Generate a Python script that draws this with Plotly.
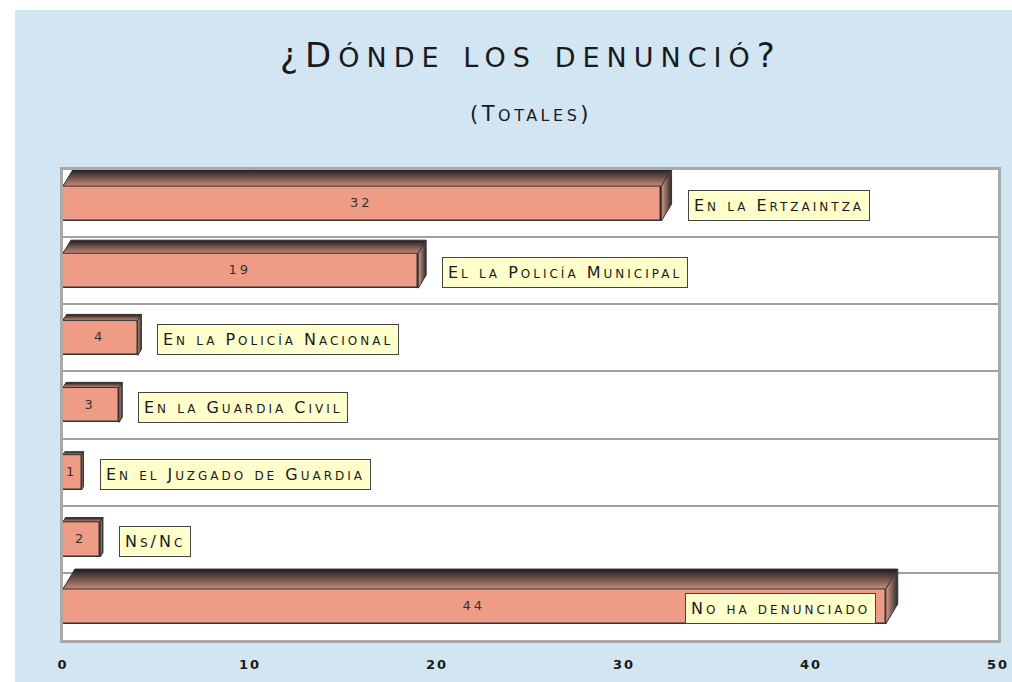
import math
import plotly.graph_objects as go

# ---------------- data ----------------
categories = ["En la Ertzaintza", "El la Policía Municipal", "En la Policía Nacional",
              "En la Guardia Civil", "En el Juzgado de Guardia", "Ns/Nc", "No ha denunciado"]
values = [32, 19, 4, 3, 1, 2, 44]
title_text = "¿Dónde los denunció?"
subtitle_text = "(Totales)"
x_ticks = [0, 10, 20, 30, 40, 50]

# ---------------- geometry / style ----------------
W, H = 1012, 682
ML, MR, MT, MB = 63, 14, 170, 42
PW, PH = W - ML - MR, H - MT - MB
XMAX = 50
N = len(categories)
PX_X = XMAX / PW          # data units per pixel (x)
PX_Y = N / PH             # data units per pixel (y)
BAR_W = 0.52
FONT = "DejaVu Sans"
BG = "#D1E5F3"
SALMON = "#EE9C85"
EDGE = "#333333"


def smallcaps(s, big, small, ls=0):
    """Render text in small caps using spans."""
    segs = []
    for ch in s:
        sm = ch.islower()
        if segs and segs[-1][0] == sm:
            segs[-1][1] += ch
        else:
            segs.append([sm, ch])
    out = []
    for sm, txt in segs:
        size = small if sm else big
        out.append(f"<span style='font-size:{size}px;letter-spacing:{ls}px'>{txt.upper()}</span>")
    return "".join(out)


def spaced(s, ls):
    return f"<span style='letter-spacing:{ls}px'>{s}</span>"


fig = go.Figure()

ypos = list(range(N))
fig.add_trace(go.Bar(
    x=values, y=ypos, orientation="h", width=BAR_W,
    marker=dict(color=SALMON, line=dict(color=EDGE, width=1.5)),
    text=[spaced(str(v), 3) for v in values], textposition="inside", insidetextanchor="middle",
    constraintext="none",
    textfont=dict(family=FONT, size=13, color="#333333"),
    hoverinfo="skip", showlegend=False,
))

# 3D faces
for i, v in enumerate(values):
    dy = 3 * math.sqrt(v)
    dx = 0.6 * dy
    ddx, ddy = dx * PX_X, dy * PX_Y
    yt, yb = i - BAR_W / 2, i + BAR_W / 2
    fig.add_trace(go.Scatter(
        x=[0, v, v + ddx, ddx, 0], y=[yt, yt, yt - ddy, yt - ddy, yt],
        mode="lines", fill="toself", line=dict(color=EDGE, width=1),
        fillgradient=dict(type="vertical", colorscale=[[0, "#1c1c1c"], [1, "#C88A7B"]],
                          start=yt - ddy, stop=yt),
        hoverinfo="skip", showlegend=False,
    ))
    fig.add_trace(go.Scatter(
        x=[v, v + ddx, v + ddx, v, v], y=[yt, yt - ddy, yb - ddy, yb, yt],
        mode="lines", fill="toself", line=dict(color=EDGE, width=1),
        fillgradient=dict(type="horizontal", colorscale=[[0, "#D9998A"], [1, "#2a2a2a"]],
                          start=v, stop=v + ddx),
        hoverinfo="skip", showlegend=False,
    ))

# labels
annotations = []
for i, (c, v) in enumerate(zip(categories, values)):
    dx = 0.6 * 3 * math.sqrt(v)
    inside = v >= 40
    annotations.append(dict(
        x=v, y=i, xref="x", yref="y",
        text=smallcaps(c, 16, 12, 3),
        showarrow=False,
        xanchor="right" if inside else "left",
        xshift=-10 if inside else dx + 16,
        yshift=-2,
        bgcolor="#FFFFCC", bordercolor="#444444", borderwidth=1, borderpad=5,
        font=dict(family=FONT, size=16, color="#1a1a1a"),
    ))

annotations.append(dict(
    x=0.5, y=(H - MB - 55) / PH, xref="paper", yref="paper", yanchor="middle",
    text=smallcaps(title_text, 34, 27, 7), showarrow=False,
    font=dict(family=FONT, size=34, color="#1a1a1a"),
))
annotations.append(dict(
    x=0.5, y=(H - MB - 114) / PH, xref="paper", yref="paper", yanchor="middle",
    text=smallcaps(subtitle_text, 21, 16, 3.5), showarrow=False,
    font=dict(family=FONT, size=21, color="#1a1a1a"),
))

shapes = [
    dict(type="rect", xref="paper", yref="paper", layer="below",
         x0=-ML / PW - 0.05, x1=(15 - ML) / PW, y0=-MB / PH - 0.05, y1=(H - MB) / PH + 0.05,
         fillcolor="white", line=dict(width=0)),
    dict(type="rect", xref="paper", yref="paper", layer="below",
         x0=-ML / PW - 0.05, x1=1 + MR / PW + 0.05, y0=(H - MB - 10) / PH, y1=(H - MB) / PH + 0.05,
         fillcolor="white", line=dict(width=0)),
]

fig.update_layout(
    width=W, height=H,
    margin=dict(l=ML, r=MR, t=MT, b=MB, pad=0, autoexpand=False),
    paper_bgcolor=BG, plot_bgcolor="white",
    annotations=annotations, shapes=shapes,
    showlegend=False, bargap=0,
    xaxis=dict(range=[0, XMAX], tickvals=x_ticks, ticktext=[spaced(str(t), 2) for t in x_ticks],
               showgrid=False, zeroline=False, automargin=False,
               showline=True, mirror=True, linecolor="#A9A9A9", linewidth=3,
               ticks="", ticklabelstandoff=10,
               tickfont=dict(family=FONT, size=13, color="#1a1a1a", weight="bold")),
    yaxis=dict(range=[N - 0.5, -0.5], tickvals=[i + 0.5 for i in range(N - 1)],
               showticklabels=False, showgrid=True, gridcolor="#A0A0A0", gridwidth=1.5,
               zeroline=False, showline=True, mirror=True, linecolor="#A9A9A9", linewidth=3,
               ticks="", automargin=False),
)

fig.write_html("out.html", config={"displayModeBar": False},
               post_script="document.body.style.margin='0';document.body.style.overflow='hidden';")
